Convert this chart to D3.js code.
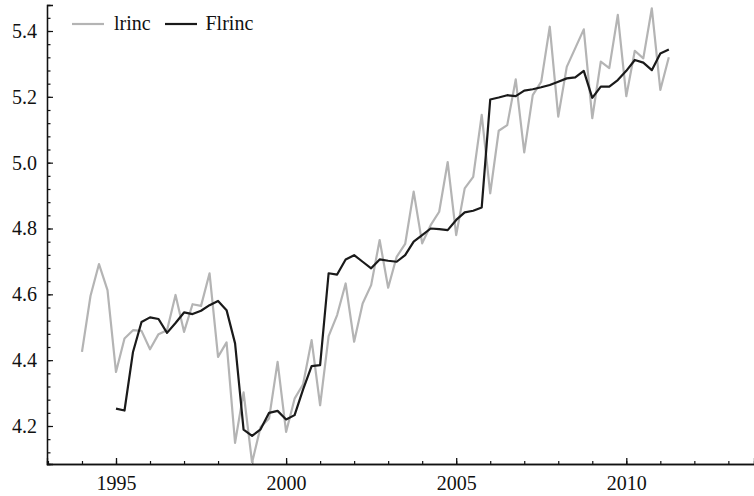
<!DOCTYPE html>
<html>
<head>
<meta charset="utf-8">
<script src="https://cdn.jsdelivr.net/npm/d3@7"></script>
<style>
  html, body { margin: 0; padding: 0; background: #fff; }
  svg { display: block; }
  text { font-family: "Liberation Serif", "DejaVu Serif", serif; fill: #111; }
</style>
</head>
<body>
<svg id="chart" width="754" height="496"></svg>
<script>
// Quarterly series, starting 1994 Q1
const startYear = 1994;
const lrinc = [
  4.425, 4.595, 4.692, 4.613, 4.364, 4.466, 4.491, 4.489, 4.433, 4.479,
  4.491, 4.598, 4.486, 4.570, 4.565, 4.664, 4.410, 4.454, 4.149, 4.302,
  4.089, 4.197, 4.223, 4.395, 4.182, 4.283, 4.327, 4.461, 4.263, 4.473,
  4.537, 4.633, 4.456, 4.572, 4.628, 4.765, 4.620, 4.714, 4.753, 4.912,
  4.755, 4.810, 4.851, 5.002, 4.780, 4.922, 4.957, 5.145, 4.907, 5.097,
  5.114, 5.253, 5.031, 5.205, 5.246, 5.413, 5.140, 5.291, 5.348, 5.405,
  5.135, 5.307, 5.287, 5.449, 5.202, 5.340, 5.317, 5.469, 5.221, 5.320
];
// Fitted series, starting 1995 Q1
const flStartYear = 1995;
const flrinc = [
  4.253, 4.247, 4.425, 4.516, 4.530, 4.525, 4.483, 4.513, 4.545, 4.540,
  4.550, 4.567, 4.580, 4.552, 4.451, 4.189, 4.170, 4.190, 4.240, 4.246,
  4.220, 4.233, 4.311, 4.382, 4.385, 4.664, 4.660, 4.706, 4.719, 4.699,
  4.679, 4.706, 4.702, 4.699, 4.719, 4.760, 4.780, 4.800, 4.798, 4.795,
  4.826, 4.849, 4.854, 4.864, 5.192, 5.198, 5.205, 5.202, 5.219, 5.223,
  5.229, 5.236, 5.246, 5.256, 5.259, 5.279, 5.197, 5.231, 5.231, 5.251,
  5.279, 5.312, 5.304, 5.281, 5.332, 5.344
];
const xMajorTicks = [1995, 2000, 2005, 2010];
const yMajorTicks = [4.2, 4.4, 4.6, 4.8, 5.0, 5.2, 5.4];
const seriesNames = ["lrinc", "Flrinc"];

const svg = d3.select("#chart");
const fontSize = 20;

const x = d3.scaleLinear().domain([1995, 2010]).range([116, 626.3]);
x.domain([x.invert(47), x.invert(754)]).range([47, 754]);
const y = d3.scaleLinear().domain([4.2, 5.4]).range([426, 31]);
y.domain([y.invert(464), y.invert(5)]).range([464, 5]);

const lrincData = lrinc.map((v, i) => ({t: startYear + i / 4, v}));
const flData = flrinc.map((v, i) => ({t: flStartYear + i / 4, v}));

const line = d3.line().x(d => x(d.t)).y(d => y(d.v));

// Axes
const xMinor = d3.range(1993, 2014);
const yMinor = d3.range(0, 36).map(i => +(4.12 + i * 0.04).toFixed(2)).filter(v => v >= y.domain()[0] && v <= y.domain()[1]);

const xAxisMinor = d3.axisBottom(x).tickValues(xMinor).tickSize(-3).tickFormat("");
const xAxisMajor = d3.axisBottom(x).tickValues(xMajorTicks).tickSize(-6).tickPadding(12).tickFormat(d3.format("d"));
const yAxisMinor = d3.axisLeft(y).tickValues(yMinor).tickSize(-3.5).tickFormat("");
const yAxisMajor = d3.axisLeft(y).tickValues(yMajorTicks).tickSize(-6).tickPadding(10).tickFormat(d3.format(".1f"));

function styleAxis(g) {
  g.selectAll("path.domain").attr("stroke", "#111").attr("stroke-width", 1.3);
  g.selectAll(".tick line").attr("stroke", "#111").attr("stroke-width", 1.2);
  g.selectAll(".tick text").attr("font-family", "Liberation Serif, serif").attr("font-size", fontSize).attr("fill", "#111");
}

svg.append("g").attr("transform", "translate(0,464)").call(xAxisMinor).call(styleAxis);
svg.append("g").attr("transform", "translate(0,464)").call(xAxisMajor).call(styleAxis)
  .selectAll(".tick line").attr("stroke-width", 1.3);
svg.append("g").attr("transform", "translate(47,0)").call(yAxisMinor).call(styleAxis);
svg.append("g").attr("transform", "translate(47,0)").call(yAxisMajor).call(styleAxis);

// Lines
svg.append("path").datum(lrincData)
  .attr("fill", "none").attr("stroke", "#b4b4b4").attr("stroke-width", 2.2)
  .attr("stroke-linejoin", "round").attr("d", line);
svg.append("path").datum(flData)
  .attr("fill", "none").attr("stroke", "#1a1a1a").attr("stroke-width", 2.2)
  .attr("stroke-linejoin", "round").attr("d", line);

// Legend
const legend = svg.append("g");
const legendItems = [
  {name: seriesNames[0], color: "#b4b4b4", x0: 72, x1: 104, tx: 114},
  {name: seriesNames[1], color: "#1a1a1a", x0: 165, x1: 197, tx: 205.5}
];
legendItems.forEach(d => {
  legend.append("line").attr("x1", d.x0).attr("x2", d.x1).attr("y1", 24).attr("y2", 24)
    .attr("stroke", d.color).attr("stroke-width", 2.2);
  legend.append("text").attr("x", d.tx).attr("y", 30).attr("font-size", fontSize).text(d.name);
});
</script>
</body>
</html>
